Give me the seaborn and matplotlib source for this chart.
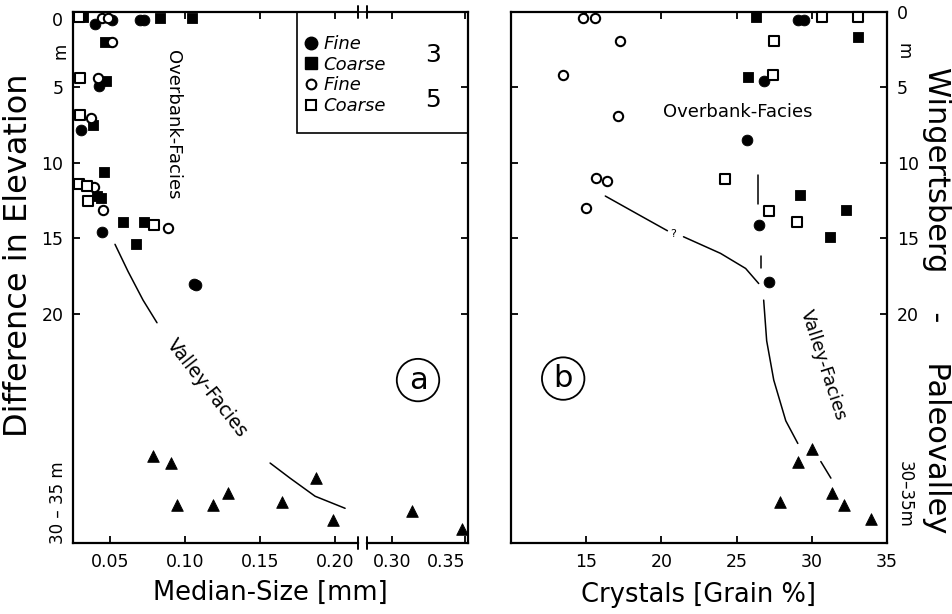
import matplotlib
matplotlib.use("Agg")
import matplotlib.pyplot as plt
import seaborn as sns
from matplotlib.lines import Line2D
from matplotlib.patches import Rectangle

# ---- panel (a): median size [mm] vs. depth [m]
a_fine3_x = [0.040, 0.0513, 0.070, 0.0727, 0.0427, 0.0307, 0.0447, 0.1060, 0.1075]
a_fine3_y = [0.8, 0.5, 0.5, 0.5, 4.9, 7.8, 14.6, 18.0, 18.1]
a_coarse3_x = [0.032, 0.0833, 0.1047, 0.0467, 0.0473, 0.0387, 0.046, 0.0413, 0.044, 0.0587, 0.0727, 0.0673]
a_coarse3_y = [0.3, 0.4, 0.4, 2.0, 4.6, 7.5, 10.6, 12.2, 12.3, 13.9, 13.9, 15.4]
a_fine5_x = [0.0447, 0.0487, 0.0513, 0.042, 0.0373, 0.0393, 0.0453, 0.0887]
a_fine5_y = [0.4, 0.4, 2.0, 4.35, 7.05, 11.6, 13.1, 14.3]
a_coarse5_x = [0.029, 0.030, 0.030, 0.0293, 0.0347, 0.0353, 0.0793]
a_coarse5_y = [0.3, 4.35, 6.8, 11.4, 11.55, 12.5, 14.1]
a_valley_x = [0.0787, 0.0907, 0.0947, 0.1187, 0.1287, 0.1647, 0.1873, 0.1987, 0.3137, 0.3479]
a_valley_y = [29.4, 29.9, 32.7, 32.7, 31.9, 32.5, 30.9, 33.7, 33.1, 34.3]
a_curve1_x = [0.0533, 0.062, 0.072, 0.0813]
a_curve1_y = [15.4, 17.2, 19.1, 20.6]
a_curve2_x = [0.1567, 0.17, 0.1867, 0.2067]
a_curve2_y = [29.9, 30.9, 32.1, 32.9]
a_ticks_lo = [0.05, 0.10, 0.15, 0.20]
a_ticks_hi = [0.30, 0.35]
a_break = 0.22

# ---- panel (b): crystals [grain %] vs. depth [m]
b_fine3_x = [29.1, 29.5, 26.8, 25.67, 26.47, 27.13]
b_fine3_y = [0.55, 0.55, 4.6, 8.5, 14.1, 17.9]
b_coarse3_x = [26.27, 33.1, 25.73, 29.2, 32.27, 31.2]
b_coarse3_y = [0.3, 1.65, 4.3, 12.1, 13.1, 14.9]
b_fine5_x = [14.8, 15.6, 17.27, 13.47, 17.13, 15.67, 16.4, 15.0]
b_fine5_y = [0.4, 0.4, 1.9, 4.2, 6.9, 11.0, 11.2, 13.0]
b_coarse5_x = [30.7, 33.1, 27.47, 27.4, 24.2, 27.13, 29.0]
b_coarse5_y = [0.35, 0.35, 1.9, 4.2, 11.1, 13.2, 13.9]
b_valley_x = [29.07, 30.0, 27.87, 31.33, 32.13, 33.93]
b_valley_y = [29.8, 29.0, 32.5, 31.9, 32.7, 33.6]
b_q1_x = [16.27, 18.6, 20.4]
b_q1_y = [12.2, 13.5, 14.5]
b_q2_x = [21.47, 23.93, 25.6, 26.47]
b_q2_y = [14.9, 16.0, 17.0, 18.0]
b_curve_x = [26.8, 27.0, 27.47, 28.27, 29.07]
b_curve_y = [19.1, 21.8, 24.4, 27.1, 28.6]
b_dash1_x = [26.4, 26.4]
b_dash1_y = [10.8, 12.7]
b_dash2_x = [26.6, 26.6]
b_dash2_y = [16.2, 17.0]
b_seg_x = [30.6, 31.27]
b_seg_y = [29.8, 30.9]
b_ticks = [15, 20, 25, 30, 35]

depth_ticks = [0, 5, 10, 15, 20]

sns.set_theme(style="ticks", rc={
    "axes.linewidth": 1.6,
    "xtick.major.width": 1.3, "ytick.major.width": 1.3,
    "xtick.major.size": 5, "ytick.major.size": 5,
    "xtick.direction": "in", "ytick.direction": "in",
    "xtick.labelsize": 12.5, "ytick.labelsize": 12.5,
    "axes.edgecolor": "black", "text.color": "black", "axes.labelcolor": "black",
    "xtick.color": "black", "ytick.color": "black",
})
plt.rcParams["font.family"] = ["DejaVu Sans"]

W, H = 953, 614


def box(l, t, r, b):
    return [l / W, 1 - b / H, (r - l) / W, (b - t) / H]


fig = plt.figure(figsize=(W / 100, H / 100), dpi=100)
ax1 = fig.add_axes(box(73, 12, 358, 543))
ax2 = fig.add_axes(box(367, 12, 468, 543), sharey=ax1)
axb = fig.add_axes(box(511, 12, 887, 543))


def dots(ax, x, y, marker, filled, s):
    sns.scatterplot(x=x, y=y, ax=ax, marker=marker, s=s,
                    facecolor="black" if filled else "white", edgecolor="black",
                    linewidth=0.6 if filled else 1.5, clip_on=False, zorder=3, legend=False)


def curve(ax, x, y, lw=1.1):
    sns.lineplot(x=x, y=y, ax=ax, sort=False, estimator=None, color="black", lw=lw)


# panel (a) left part and right part (broken x axis)
for ax, keep in ((ax1, lambda v: v < a_break), (ax2, lambda v: v >= a_break)):
    for xs, ys, mk, fl, s in ((a_fine3_x, a_fine3_y, "o", True, 60),
                              (a_coarse3_x, a_coarse3_y, "s", True, 55),
                              (a_fine5_x, a_fine5_y, "o", False, 45),
                              (a_coarse5_x, a_coarse5_y, "s", False, 45),
                              (a_valley_x, a_valley_y, "^", True, 70)):
        px = [x for x in xs if keep(x)]
        py = [y for x, y in zip(xs, ys) if keep(x)]
        if px:
            dots(ax, px, py, mk, fl, s)
curve(ax1, a_curve1_x, a_curve1_y)
curve(ax1, a_curve2_x, a_curve2_y)

ax1.set_xlim(0.0253, 0.2153)
ax2.set_xlim(0.2829, 0.352)
ax1.set_ylim(35.2, 0.1)
ax1.set_xticks(a_ticks_lo)
ax1.set_xticklabels([f"{t:.2f}" for t in a_ticks_lo])
ax2.set_xticks(a_ticks_hi)
ax2.set_xticklabels([f"{t:.2f}" for t in a_ticks_hi])
ax2.get_xticklabels()[-1].set_ha("right")
ax1.set_yticks(depth_ticks)
ax1.set_yticklabels([str(t) for t in depth_ticks])
ax1.get_yticklabels()[0].set_va("top")
ax1.spines["right"].set_visible(False)
ax2.spines["left"].set_visible(False)
ax1.tick_params(top=True, right=False, pad=7)
ax2.tick_params(top=True, left=False, right=True, labelleft=False, pad=7)
ax1.set_xlabel("")
ax2.set_xlabel("")
ax1.set_ylabel("")

# break marks
for ax, xa in ((ax1, 1), (ax2, 0)):
    for ya in (0, 1):
        ax.plot([xa, xa], [ya - 0.012, ya + 0.012], transform=ax.transAxes,
                color="black", lw=1.4, clip_on=False)

ax1.annotate("m", xy=(0, 2.6), xycoords=ax1.get_yaxis_transform(), xytext=(-9, 0),
             textcoords="offset points", rotation=90, ha="center", va="center", fontsize=12)
ax1.annotate("30 – 35 m", xy=(0, 32.5), xycoords=ax1.get_yaxis_transform(), xytext=(-11, 0),
             textcoords="offset points", rotation=90, ha="center", va="center", fontsize=12)

ax1.text(0.092, 7.46, "Overbank-Facies", rotation=-90, ha="center", va="center", fontsize=13)
ax1.text(0.1147, 24.95, "Valley-Facies", rotation=-52, ha="center", va="center", fontsize=13.5)
ax2.text(0.3178, 24.4, "a", fontsize=22, ha="center", va="center",
         bbox=dict(boxstyle="circle,pad=0.22", fc="none", ec="black", lw=1.3))

fig.text(270 / W, 1 - 593 / H, "Median-Size [mm]", ha="center", va="center", fontsize=18.5)
fig.text(19 / W, 1 - 255 / H, "Difference in Elevation", rotation=90, ha="center", va="center", fontsize=23)

# legend
handles = [
    Line2D([], [], ls="none", marker="o", ms=9, mfc="black", mec="black"),
    Line2D([], [], ls="none", marker="s", ms=8.5, mfc="black", mec="black"),
    Line2D([], [], ls="none", marker="o", ms=7, mfc="white", mec="black", mew=1.5),
    Line2D([], [], ls="none", marker="s", ms=7, mfc="white", mec="black", mew=1.5),
]
fig.legend(handles, ["Fine", "Coarse", "Fine", "Coarse"], loc="upper left",
           bbox_to_anchor=(305 / W, 1 - 35 / H), frameon=False,
           prop={"style": "italic", "size": 13}, handlelength=0.7, handletextpad=0.3,
           labelspacing=0.15, borderpad=0, borderaxespad=0)
fig.add_artist(Rectangle((297 / W, 1 - 133 / H), (468 - 297) / W, (133 - 12) / H,
                         transform=fig.transFigure, fill=False, ec="black", lw=1.2))
fig.text(433 / W, 1 - 55 / H, "3", ha="center", va="center", fontsize=18)
fig.text(433 / W, 1 - 100 / H, "5", ha="center", va="center", fontsize=18)

# panel (b)
dots(axb, b_fine3_x, b_fine3_y, "o", True, 60)
dots(axb, b_coarse3_x, b_coarse3_y, "s", True, 55)
dots(axb, b_fine5_x, b_fine5_y, "o", False, 45)
dots(axb, b_coarse5_x, b_coarse5_y, "s", False, 45)
dots(axb, b_valley_x, b_valley_y, "^", True, 70)
curve(axb, b_q1_x, b_q1_y)
curve(axb, b_q2_x, b_q2_y)
curve(axb, b_curve_x, b_curve_y)
curve(axb, b_dash1_x, b_dash1_y)
curve(axb, b_dash2_x, b_dash2_y)
curve(axb, b_seg_x, b_seg_y)
axb.text(20.8, 14.7, "?", ha="center", va="center", fontsize=8)

axb.set_xlim(10, 35)
axb.set_ylim(35.2, 0.1)
axb.set_xticks(b_ticks)
axb.set_xticklabels([str(t) for t in b_ticks])
axb.set_yticks(depth_ticks)
axb.set_yticklabels([str(t) for t in depth_ticks])
axb.get_yticklabels()[0].set_va("top")
axb.tick_params(top=True, right=True, left=True, labelleft=False, labelright=True, pad=7)
axb.set_ylabel("")
axb.set_xlabel("Crystals [Grain %]", fontsize=18.5, labelpad=8)

axb.annotate("m", xy=(1, 2.6), xycoords=axb.get_yaxis_transform(), xytext=(12, 0),
             textcoords="offset points", rotation=-90, ha="center", va="center", fontsize=12)
axb.annotate("30–35m", xy=(1, 32.0), xycoords=axb.get_yaxis_transform(), xytext=(13, 0),
             textcoords="offset points", rotation=-90, ha="center", va="center", fontsize=12)

axb.text(25.07, 6.6, "Overbank-Facies", ha="center", va="center", fontsize=13)
axb.text(30.73, 23.4, "Valley-Facies", rotation=-72, ha="center", va="center", fontsize=13)
axb.text(13.47, 24.3, "b", fontsize=22, ha="center", va="center",
         bbox=dict(boxstyle="circle,pad=0.22", fc="none", ec="black", lw=1.3))

fig.text(937 / W, 1 - 300 / H, "Wingertsberg    -    Paleovalley", rotation=-90,
         ha="center", va="center", fontsize=22)

fig.savefig("out.png", dpi=100)
